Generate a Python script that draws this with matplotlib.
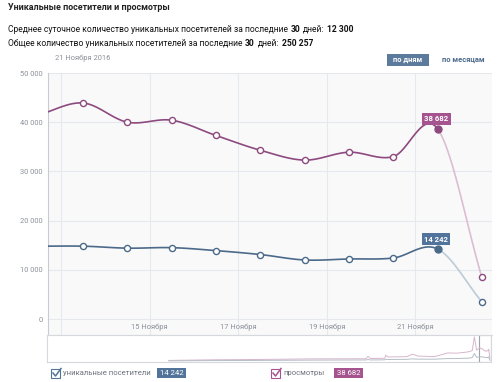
import numpy as np
import matplotlib
matplotlib.use("Agg")
import matplotlib.pyplot as plt
from matplotlib.patches import Rectangle
from matplotlib.lines import Line2D

plt.rcParams['font.family'] = ['Roboto', 'DejaVu Sans']

# ---------------- data ----------------
days = [12, 13, 14, 15, 16, 17, 18, 19, 20, 21, 22]          # November 2016
views = [41500, 43900, 40000, 40400, 37300, 34300, 32300, 33900, 33000, 38682, 8500]
visitors = [14800, 14800, 14400, 14500, 13900, 13100, 12000, 12200, 12400, 14242, 3500]
tick_days = [13, 15, 17, 19, 21]
tick_labels = ["", "15 Ноября", "17 Ноября", "19 Ноября", "21 Ноября"]
y_ticks = [0, 10000, 20000, 30000, 40000, 50000]

# navigator (overview of the full history), day index relative
nav_day = [110, 150, 190, 215, 240, 288, 290, 292, 305, 306, 308, 325, 330, 335,
           350, 362, 370, 380, 384, 386, 388, 391, 392, 393, 394, 395, 396, 397,
           398, 399, 400]
nav_views = [3000, 5000, 6000, 7000, 8000, 8500, 16000, 9000, 10000, 20000, 14000,
             15000, 23000, 17000, 15000, 27000, 26000, 30000, 34000, 78000, 36000,
             43900, 40000, 40400, 37300, 34300, 32300, 33900, 33000, 38682, 8500]
nav_visitors = [1500, 2500, 3000, 3500, 4000, 4500, 6000, 4500, 5000, 7000, 6000,
                6500, 8000, 7000, 7000, 9000, 9000, 10000, 12000, 25000, 13000,
                14800, 14400, 14500, 13900, 13100, 12000, 12200, 12400, 14242, 3500]

avg_daily = "12 300"
total_30 = "250 257"

# ---------------- colours ----------------
C_VIEWS = "#8d4a7e"
C_VIEWS_L = "#dcbdd2"
C_VIS = "#4b6a89"
C_VIS_L = "#bccbd6"
C_VIEWS_BOX = "#a5548f"
C_VIS_BOX = "#52739a"
GRID = "#e6e8ec"
TXT_GRAY = "#8b9099"

W, H = 500, 382
fig = plt.figure(figsize=(W / 100, H / 100), dpi=100)
fig.patch.set_facecolor("white")


def fx(px):
    return px / W


def fy(py):
    return 1 - py / H


def fmt(v):
    return f"{int(v):,}".replace(",", " ")


def spline(xs, ys, n=30):
    xs = np.asarray(xs, float)
    ys = np.asarray(ys, float)
    m = np.zeros_like(ys)
    m[1:-1] = (ys[2:] - ys[:-2]) / (xs[2:] - xs[:-2])
    m[0] = (ys[1] - ys[0]) / (xs[1] - xs[0])
    m[-1] = (ys[-1] - ys[-2]) / (xs[-1] - xs[-2])
    segs = []
    for i in range(len(xs) - 1):
        h = xs[i + 1] - xs[i]
        t = np.linspace(0, 1, n)
        h00 = 2 * t**3 - 3 * t**2 + 1
        h10 = t**3 - 2 * t**2 + t
        h01 = -2 * t**3 + 3 * t**2
        h11 = t**3 - t**2
        yy = h00 * ys[i] + h10 * h * m[i] + h01 * ys[i + 1] + h11 * h * m[i + 1]
        segs.append((xs[i] + t * h, yy))
    return segs


# ---------------- main axes ----------------
ax = fig.add_axes([fx(48), fy(335), fx(492 - 48), (335 - 73) / H])
ax.set_facecolor("#f9f9fa")
ax.set_xlim(12.707, 22.73)
ax.set_ylim(-3250, 50000)

ax.set_yticks(y_ticks)
ax.set_yticklabels([fmt(v) for v in y_ticks])
ax.set_xticks(tick_days)
ax.set_xticklabels(tick_labels)
ax.tick_params(axis="y", length=0, pad=4, labelsize=5.4, labelcolor=TXT_GRAY)
ax.tick_params(axis="x", length=0, pad=-8, labelsize=5.4, labelcolor=TXT_GRAY)
ax.grid(True, color=GRID, lw=0.8)
ax.set_axisbelow(True)
for s in ["top", "right"]:
    ax.spines[s].set_visible(False)
ax.spines["left"].set_color("#c8ccd2")
ax.spines["bottom"].set_color("#dde0e5")
ax.spines["left"].set_linewidth(0.8)
ax.spines["bottom"].set_linewidth(0.8)

xpts = [d + 0.5 for d in days]

for ys, c, cl in [(views, C_VIEWS, C_VIEWS_L), (visitors, C_VIS, C_VIS_L)]:
    segs = spline(xpts, ys)
    for i, (sx, sy) in enumerate(segs):
        col = cl if i == len(segs) - 1 else c
        ax.plot(sx, sy, color=col, lw=1.2, solid_capstyle="round", zorder=3)
    idx = [i for i in range(1, len(xpts)) if i != len(xpts) - 2]
    ax.plot([xpts[i] for i in idx], [ys[i] for i in idx], ls="none", marker="o",
            ms=4.4, mfc="white", mec=c, mew=1.0, zorder=4)
    ax.plot([xpts[-2]], [ys[-2]], ls="none", marker="o", ms=5, mfc=c, mec=c, zorder=5)

# tooltip boxes
for ys, c in [(views, C_VIEWS_BOX), (visitors, C_VIS_BOX)]:
    ax.annotate(fmt(ys[-2]), (xpts[-2], ys[-2]), xytext=(-1, 4.5), textcoords="offset points",
                ha="center", va="bottom", fontsize=5.6, color="white", weight="bold",
                bbox=dict(boxstyle="square,pad=0.3", fc=c, ec="none"), zorder=6)

# ---------------- navigator ----------------
nav = fig.add_axes([fx(47), fy(362), fx(491 - 47), (362 - 335) / H])
nav.set_facecolor("white")
nav.set_xlim(0, 401)
nav.set_ylim(-2000, 84000)
nav.set_xticks([])
nav.set_yticks([])
for s in nav.spines.values():
    s.set_color("#d5d9de")
    s.set_linewidth(0.8)
nav.plot(nav_day, nav_views, color="#d8b6cd", lw=0.7)
nav.plot(nav_day, nav_visitors, color="#b5bdc6", lw=0.7)
nav.add_patch(Rectangle((390.5, -2000), 10.5, 86000, fill=False, ec="#9aa2ac", lw=0.8))

# ---------------- header texts ----------------
fig.text(fx(8), fy(8), "Уникальные посетители и просмотры", fontsize=6.4,
         weight="bold", color="#222222", va="center", ha="left")

renderer = fig.canvas.get_renderer()
BODY_FS = 6.15


def text_w(s, bold=False):
    t = fig.text(0, 0, s, fontsize=BODY_FS, weight="bold" if bold else "normal")
    w = t.get_window_extent(renderer=renderer).width
    t.remove()
    return w


SPACE_W = text_w("н н") - text_w("нн") + 0.6


def rich_line(y, parts):
    x = 8.0
    for i, (txt, bold) in enumerate(parts):
        fig.text(fx(x), fy(y), txt, fontsize=BODY_FS, weight="bold" if bold else "normal",
                 color="#111111", va="center", ha="left")
        x += text_w(txt, bold) + SPACE_W


rich_line(29, [("Среднее суточное количество уникальных посетителей за последние", False),
               ("30", True), ("дней:", False), (avg_daily, True)])
rich_line(43, [("Общее количество уникальных посетителей за последние", False),
               ("30", True), ("дней:", False), (total_30, True)])

fig.text(fx(55), fy(58), "21 Ноября 2016", fontsize=5.4, color=TXT_GRAY, va="center")

# buttons
fig.patches.append(Rectangle((fx(387), fy(66)), fx(42), 12 / H, transform=fig.transFigure,
                             fc="#5b7a9c", ec="none"))
fig.text(fx(408), fy(60), "по дням", fontsize=5.4, color="white", weight="bold",
         ha="center", va="center")
fig.text(fx(463), fy(60), "по месяцам", fontsize=5.4, color="#4d6a8c", weight="bold",
         ha="center", va="center")


# ---------------- legend ----------------
def checkbox(x, y, c):
    fig.patches.append(Rectangle((fx(x), fy(y + 4.5)), fx(9), 9 / H, transform=fig.transFigure,
                                 fc="white", ec=c, lw=0.8))
    fig.lines.append(Line2D([fx(x + 2), fx(x + 4.5), fx(x + 10)],
                            [fy(y), fy(y + 3), fy(y - 4.5)], transform=fig.transFigure,
                            color=c, lw=1.1))


checkbox(51, 373, C_VIS_BOX)
fig.text(fx(63), fy(373), "уникальные посетители", fontsize=5.5, color="#6b7079", va="center")
fig.text(fx(171.5), fy(373), fmt(visitors[-2]), fontsize=5.6, color="white", ha="center",
         va="center", bbox=dict(boxstyle="square,pad=0.3", fc=C_VIS_BOX, ec="none"))

checkbox(271, 373, C_VIEWS_BOX)
fig.text(fx(283), fy(373), "просмотры", fontsize=5.5, color="#6b7079", va="center")
fig.text(fx(348.5), fy(373), fmt(views[-2]), fontsize=5.6, color="white", ha="center",
         va="center", bbox=dict(boxstyle="square,pad=0.3", fc=C_VIEWS_BOX, ec="none"))

fig.savefig("out.png", dpi=100)
